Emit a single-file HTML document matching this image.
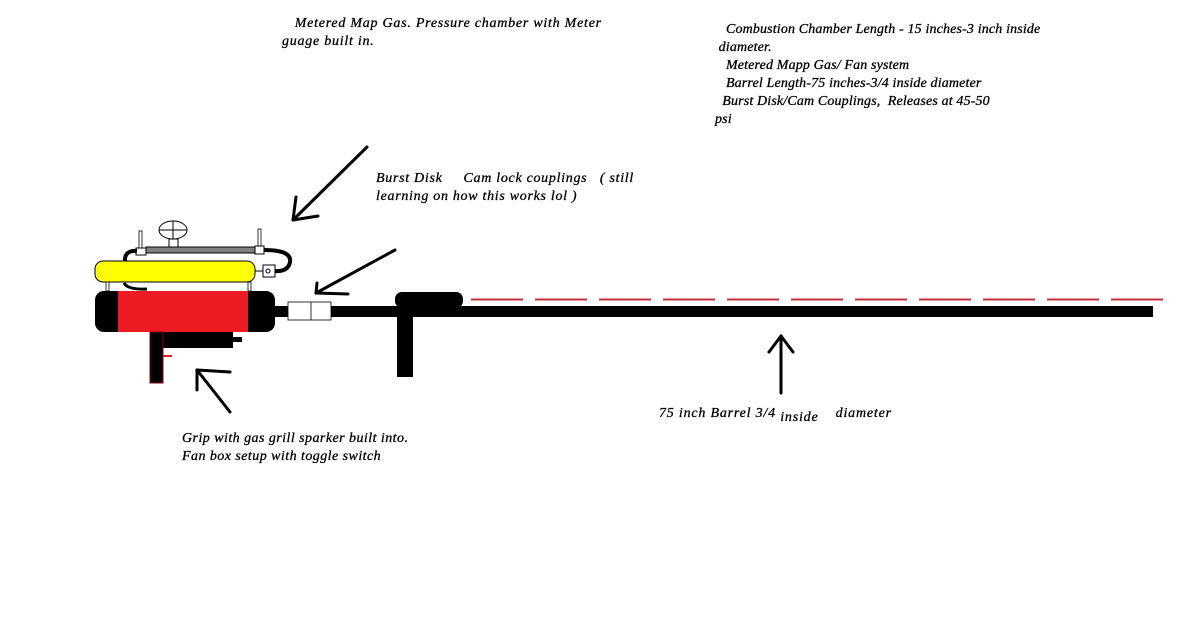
<!DOCTYPE html>
<html><head><style>
body{margin:0;background:#fff;width:1201px;height:631px;overflow:hidden;position:relative;font-family:"Liberation Serif",serif;font-style:italic;font-size:14px;color:#000}
.t{position:absolute;white-space:pre;line-height:18px;-webkit-text-stroke:0.3px #000}
svg{position:absolute;left:0;top:0}
</style></head><body>
<svg width="1201" height="631" viewBox="0 0 1201 631">
<ellipse cx="173" cy="230" rx="14" ry="9" fill="#fff" stroke="#000"/>
<line x1="173" y1="221" x2="173" y2="239" stroke="#000"/>
<line x1="159" y1="230" x2="187" y2="230" stroke="#000"/>
<rect x="169" y="239" width="9" height="8" fill="#fff" stroke="#000"/>
<rect x="139" y="231" width="3" height="18" fill="#fff" stroke="#000" stroke-width="0.8"/>
<rect x="258" y="229" width="3" height="20" fill="#fff" stroke="#000" stroke-width="0.8"/>
<rect x="146" y="247" width="110" height="6" fill="#808080" stroke="#000"/>
<rect x="136" y="248" width="10" height="7" fill="#fff" stroke="#000"/>
<rect x="255" y="246" width="9" height="8" fill="#fff" stroke="#000"/>
<path d="M137 251 Q124 250 125 262" fill="none" stroke="#000" stroke-width="4"/>
<path d="M264 250 Q292 250 290 262 Q288 272 275 271" fill="none" stroke="#000" stroke-width="4"/>
<rect x="95" y="261" width="160" height="21" rx="8" fill="#ffff00" stroke="#000"/>
<rect x="263" y="265" width="12" height="12" fill="#fff" stroke="#000"/>
<circle cx="268" cy="271" r="2" fill="none" stroke="#000"/>
<line x1="255" y1="271" x2="263" y2="271" stroke="#000"/>
<rect x="106" y="282" width="3" height="9" fill="#fff" stroke="#000" stroke-width="0.8"/>
<rect x="248" y="282" width="3" height="9" fill="#fff" stroke="#000" stroke-width="0.8"/>
<path d="M124 283 Q128 290 147 289" fill="none" stroke="#000" stroke-width="3"/>
<rect x="95" y="291" width="180" height="41" rx="9" fill="#000"/>
<rect x="118" y="291" width="130" height="41" fill="#ed1c24"/>
<rect x="151" y="332" width="82" height="16" fill="#000"/>
<rect x="233" y="337" width="9" height="5" fill="#000"/>
<rect x="150" y="332" width="13" height="51" fill="#000" stroke="#880015" stroke-width="1"/>
<rect x="163" y="355" width="9" height="2" fill="#ed1c24"/>
<rect x="275" y="306" width="878" height="11" fill="#000"/>
<rect x="395" y="292" width="68" height="16" rx="7" fill="#000"/>
<rect x="397" y="306" width="16" height="71" fill="#000"/>
<rect x="288" y="302" width="43" height="18" fill="#fff" stroke="#000" stroke-width="0.8"/>
<line x1="311" y1="302" x2="311" y2="320" stroke="#000" stroke-width="0.8"/>
<line x1="471" y1="299.5" x2="1166" y2="299.5" stroke="#c0303a" stroke-width="2" stroke-dasharray="52 12"/>
<g stroke="#000" stroke-width="3" fill="none" stroke-linecap="round">
<line x1="367" y1="147" x2="293" y2="220"/>
<line x1="293" y1="220" x2="296" y2="197"/>
<line x1="293" y1="220" x2="318" y2="216"/>
<line x1="395" y1="250" x2="316" y2="293"/>
<line x1="316" y1="293" x2="317" y2="283"/>
<line x1="316" y1="293" x2="348" y2="294"/>
<line x1="781" y1="393" x2="781" y2="336"/>
<line x1="781" y1="336" x2="769" y2="352"/>
<line x1="781" y1="336" x2="793" y2="352"/>
<line x1="230" y1="412" x2="197" y2="370"/>
<line x1="197" y1="370" x2="197" y2="390"/>
<line x1="197" y1="370" x2="230" y2="372"/>
</g>
</svg>
<div class="t" style="left:282px;top:15px;letter-spacing:0.75px">   Metered Map Gas. Pressure chamber with Meter
guage built in.</div>
<div class="t" style="left:715px;top:21px;letter-spacing:0.15px">   Combustion Chamber Length - 15 inches-3 inch inside
 diameter.
   Metered Mapp Gas/ Fan system
   Barrel Length-75 inches-3/4 inside diameter
  Burst Disk/Cam Couplings,  Releases at 45-50
psi</div>
<div class="t" style="left:376px;top:170px;letter-spacing:0.7px">Burst Disk     Cam lock couplings   ( still
learning on how this works lol )</div>
<div class="t" style="left:182px;top:430px;letter-spacing:0.45px">Grip with gas grill sparker built into.
Fan box setup with toggle switch</div>
<div class="t" style="left:659px;top:405px;letter-spacing:0.8px">75 inch Barrel 3/4 <span style="position:relative;top:4px">inside</span>    diameter</div>
</body></html>
